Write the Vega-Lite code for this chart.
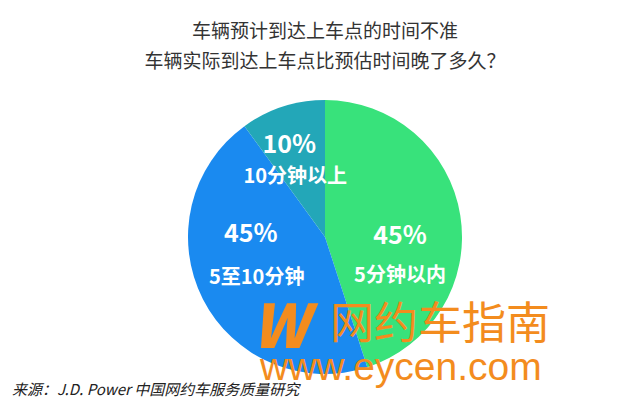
{
  "$schema": "https://vega.github.io/schema/vega-lite/v6.json",
  "autosize": "none",
  "width": 630,
  "height": 334,
  "padding": {"left": 10, "top": 70, "right": 0, "bottom": 0},
  "background": "white",
  "view": {"stroke": null},
  "title": {
    "text": ["车辆预计到达上车点的时间不准", "车辆实际到达上车点比预估时间晚了多久？"],
    "fontSize": 19,
    "fontWeight": "normal",
    "color": "#333333",
    "font": "Noto Sans CJK SC",
    "lineHeight": 30,
    "anchor": "middle",
    "offset": 0,
    "dy": 2
  },
  "data": {
    "values": [
      {"idx": 1, "cat": "5分钟以内", "pct": 45, "pctText": "45%"},
      {"idx": 2, "cat": "5至10分钟", "pct": 45, "pctText": "45%"},
      {"idx": 3, "cat": "10分钟以上", "pct": 10, "pctText": "10%"}
    ]
  },
  "encoding": {
    "theta": {"field": "pct", "type": "quantitative", "stack": true},
    "order": {"field": "idx", "type": "quantitative"}
  },
  "layer": [
    {
      "mark": {"type": "arc", "outerRadius": 137},
      "encoding": {
        "color": {
          "field": "cat",
          "type": "nominal",
          "sort": ["5分钟以内", "5至10分钟", "10分钟以上"],
          "scale": {"domain": ["5分钟以内", "5至10分钟", "10分钟以上"], "range": ["#38E27B", "#1A8AF0", "#23A7B8"]},
          "legend": null
        }
      }
    },
    {
      "mark": {"type": "text", "radius": 80, "dx": -4, "dy": 12, "fontSize": 25, "fontWeight": "bold", "color": "white", "font": "Noto Sans CJK SC", "baseline": "middle"},
      "encoding": {"text": {"condition": {"test": "datum.idx === 1", "field": "pctText"}, "value": ""}}
    },
    {
      "mark": {"type": "text", "radius": 80, "dx": -4, "dy": 52, "fontSize": 20, "fontWeight": "bold", "color": "white", "font": "Noto Sans CJK SC", "baseline": "middle"},
      "encoding": {"text": {"condition": {"test": "datum.idx === 1", "field": "cat"}, "value": ""}}
    },
    {
      "mark": {"type": "text", "radius": 80, "dx": -3, "dy": -39, "fontSize": 25, "fontWeight": "bold", "color": "white", "font": "Noto Sans CJK SC", "baseline": "middle"},
      "encoding": {"text": {"condition": {"test": "datum.idx === 2", "field": "pctText"}, "value": ""}}
    },
    {
      "mark": {"type": "text", "radius": 80, "dx": 3, "dy": 5, "fontSize": 20, "fontWeight": "bold", "color": "white", "font": "Noto Sans CJK SC", "baseline": "middle"},
      "encoding": {"text": {"condition": {"test": "datum.idx === 2", "field": "cat"}, "value": ""}}
    },
    {
      "mark": {"type": "text", "radius": 80, "dx": -11, "dy": -16, "fontSize": 25, "fontWeight": "bold", "color": "white", "font": "Noto Sans CJK SC", "baseline": "middle"},
      "encoding": {"text": {"condition": {"test": "datum.idx === 3", "field": "pctText"}, "value": ""}}
    },
    {
      "mark": {"type": "text", "radius": 80, "dx": -5, "dy": 16, "fontSize": 20, "fontWeight": "bold", "color": "white", "font": "Noto Sans CJK SC", "baseline": "middle"},
      "encoding": {"text": {"condition": {"test": "datum.idx === 3", "field": "cat"}, "value": ""}}
    },
    {
      "data": {"values": [{"t": "W"}]},
      "mark": {"type": "text", "align": "left", "baseline": "alphabetic", "fontSize": 60, "fontWeight": 900, "fontStyle": "italic", "color": "#F38C1E", "font": "Noto Sans CJK SC"},
      "encoding": {"text": {"field": "t"}, "x": {"value": 242}, "y": {"value": 278}, "theta": null, "order": null}
    },
    {
      "data": {"values": [{"t": "网约车指南"}]},
      "mark": {"type": "text", "align": "left", "baseline": "middle", "fontSize": 44, "color": "#F38C1E", "font": "Noto Sans CJK SC"},
      "encoding": {"text": {"field": "t"}, "x": {"value": 320}, "y": {"value": 256}, "theta": null, "order": null}
    },
    {
      "data": {"values": [{"t": "www.eycen.com"}]},
      "mark": {"type": "text", "align": "left", "baseline": "alphabetic", "fontSize": 39, "color": "#F38C1E", "font": "Liberation Sans"},
      "encoding": {"text": {"field": "t"}, "x": {"value": 250}, "y": {"value": 310}, "theta": null, "order": null}
    },
    {
      "data": {"values": [{"t": "来源：J.D. Power 中国网约车服务质量研究"}]},
      "mark": {"type": "text", "align": "left", "baseline": "middle", "fontSize": 15, "fontStyle": "italic", "color": "#222222", "font": "Noto Sans CJK SC"},
      "encoding": {"text": {"field": "t"}, "x": {"value": 2}, "y": {"value": 320}, "theta": null, "order": null}
    }
  ]
}
